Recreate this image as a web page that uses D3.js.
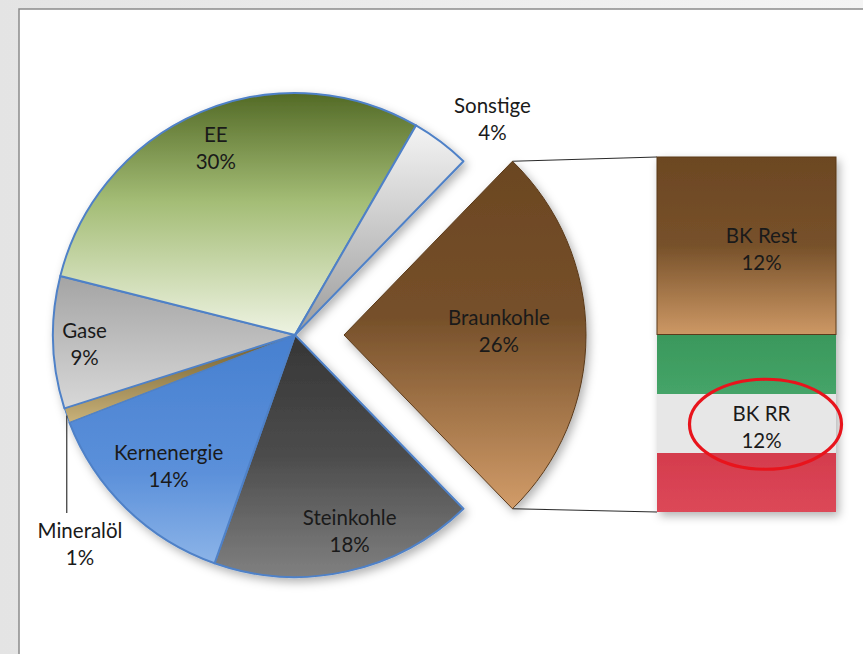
<!DOCTYPE html>
<html>
<head>
<meta charset="utf-8">
<script src="https://cdn.jsdelivr.net/npm/d3@7"></script>
<style>
  html, body { margin: 0; padding: 0; background: #efefef; }
  svg { display: block; }
  text { font-family: Lato, "Open Sans", sans-serif; fill: #1a1a1a; }
</style>
</head>
<body>
<svg id="chart" width="863" height="654"></svg>
<script>
// Primary energy mix (shares in %), drawn clockwise starting with Braunkohle
const categories = ["Braunkohle", "Steinkohle", "Kernenergie", "Mineralöl", "Gase", "EE", "Sonstige"];
const shares = [26, 18, 14, 1, 9, 30, 4];

// Split of Braunkohle shown in the stacked bar (bottom to top)
const bkParts = ["BK RR", "BK Rest"];
const bkShares = [12, 12];

// Slice fills: vertical gradient stops [offset, colour]
const sliceFills = {
  "Braunkohle":  [[0, "#6b4622"], [0.45, "#76502a"], [1, "#d29c69"]],
  "Steinkohle":  [[0, "#363636"], [0.5, "#4c4c4c"], [1, "#808080"]],
  "Kernenergie": [[0, "#4780d0"], [0.6, "#5b90da"], [1, "#8cb4e8"]],
  "Mineralöl":   [[0, "#6e5a2a"], [1, "#c9b27a"]],
  "Gase":        [[0, "#a4a4a4"], [1, "#d8d8d8"]],
  "EE":          [[0, "#536a26"], [0.45, "#a4bd76"], [1, "#eef3e2"]],
  "Sonstige":    [[0, "#f4f4f4"], [1, "#9c9c9c"]]
};

const svg = d3.select("#chart");
const W = 863, H = 654;
const cx = 295, cy = 335, R = 242, explode = 49;
const barX = 657, barW = 179, barTop = 157, barBottom = 512;

const defs = svg.append("defs");

// background strip + page frame
const bgGrad = defs.append("linearGradient").attr("id", "bgGrad")
  .attr("x1", 0).attr("y1", 0).attr("x2", 1).attr("y2", 0);
bgGrad.append("stop").attr("offset", 0).attr("stop-color", "#e4e4e4");
bgGrad.append("stop").attr("offset", 1).attr("stop-color", "#f4f4f4");
svg.append("rect").attr("width", W).attr("height", H).attr("fill", "url(#bgGrad)");
svg.append("rect").attr("x", 19).attr("y", 9).attr("width", W).attr("height", H)
  .attr("fill", "#ffffff").attr("stroke", "#8a8a8a").attr("stroke-width", 1.5);

// soft drop shadow for pie and bar
const shadow = defs.append("filter").attr("id", "shadow")
  .attr("x", "-20%").attr("y", "-20%").attr("width", "140%").attr("height", "140%");
shadow.append("feDropShadow").attr("dx", 3).attr("dy", 4)
  .attr("stdDeviation", 5).attr("flood-color", "#000").attr("flood-opacity", 0.3);

categories.forEach((c, i) => {
  const g = defs.append("linearGradient").attr("id", "fill" + i)
    .attr("x1", 0).attr("y1", 0).attr("x2", 0).attr("y2", 1);
  sliceFills[c].forEach(([o, col]) => g.append("stop").attr("offset", o).attr("stop-color", col));
});

const total = d3.sum(shares);
const start = Math.PI / 2 - Math.PI * shares[0] / total;   // Braunkohle centred at 3 o'clock
const pie = d3.pie().sort(null).value(d => d.value)
  .startAngle(start).endAngle(start + 2 * Math.PI);
const data = pie(categories.map((name, i) => ({ name, value: shares[i] })));

const arc = d3.arc().innerRadius(0).outerRadius(R);
const polar = (r, a) => [r * Math.sin(a), -r * Math.cos(a)];

// offset of each slice (only Braunkohle is pulled out)
const offsetOf = d => d.data.name === "Braunkohle"
  ? polar(explode, (d.startAngle + d.endAngle) / 2) : [0, 0];

// bar scale for the Braunkohle split
const yBar = d3.scaleLinear().domain([0, d3.sum(bkShares)]).range([barBottom, barTop]);

// connector lines between the pulled-out slice and the bar
const bk = data[0];
const bkOff = offsetOf(bk);
const pTop = polar(R, bk.startAngle), pBot = polar(R, bk.endAngle);
const conn = svg.append("g").attr("stroke", "#2a2a2a").attr("stroke-width", 1.2);
conn.append("line")
  .attr("x1", cx + bkOff[0] + pTop[0]).attr("y1", cy + bkOff[1] + pTop[1])
  .attr("x2", barX).attr("y2", yBar(d3.sum(bkShares)));
conn.append("line")
  .attr("x1", cx + bkOff[0] + pBot[0]).attr("y1", cy + bkOff[1] + pBot[1])
  .attr("x2", barX).attr("y2", yBar(0));

// pie
const pieG = svg.append("g").attr("transform", `translate(${cx},${cy})`).attr("filter", "url(#shadow)");
pieG.selectAll("path").data(data).join("path")
  .attr("transform", d => `translate(${offsetOf(d)})`)
  .attr("d", arc)
  .attr("fill", (d, i) => `url(#fill${i})`)
  .attr("stroke", d => d.data.name === "Braunkohle" ? "#5a3a1a" : "#4f81c7")
  .attr("stroke-width", d => d.data.name === "Braunkohle" ? 1 : (d.data.name === "Mineralöl" ? 1 : 2))
  .attr("stroke-linejoin", "round");

// stacked bar: BK RR (tri-colour band) at the bottom, BK Rest on top
const restGrad = defs.append("linearGradient").attr("id", "barRest")
  .attr("x1", 0).attr("y1", 0).attr("x2", 0).attr("y2", 1);
[[0, "#6c4723"], [0.5, "#77512a"], [1, "#cd9865"]].forEach(([o, c]) =>
  restGrad.append("stop").attr("offset", o).attr("stop-color", c));
const rrGrad = defs.append("linearGradient").attr("id", "barRR")
  .attr("x1", 0).attr("y1", 0).attr("x2", 0).attr("y2", 1);
[[0, "#3a985c"], [0.333, "#45a468"], [0.333, "#e7e7e7"], [0.667, "#e7e7e7"],
 [0.667, "#d43c4d"], [1, "#dc4858"]].forEach(([o, c]) =>
  rrGrad.append("stop").attr("offset", o).attr("stop-color", c));

const stacked = [];
let acc = 0;
bkParts.forEach((name, i) => { stacked.push({ name, value: bkShares[i], y0: acc, y1: acc + bkShares[i] }); acc += bkShares[i]; });

const barG = svg.append("g").attr("filter", "url(#shadow)");
barG.selectAll("rect").data(stacked).join("rect")
  .attr("x", barX).attr("width", barW)
  .attr("y", d => yBar(d.y1)).attr("height", d => yBar(d.y0) - yBar(d.y1))
  .attr("fill", d => d.name === "BK Rest" ? "url(#barRest)" : "url(#barRR)")
  .attr("stroke", d => d.name === "BK Rest" ? "#5a3a1a" : "none")
  .attr("stroke-width", 1);

// labels
const fs = 20.5, lh = 27;
function twoLine(x, y, a, b) {
  const t = svg.append("text").attr("text-anchor", "middle").attr("font-size", fs);
  t.append("tspan").attr("x", x).attr("y", y - lh / 2).attr("dominant-baseline", "central").text(a);
  t.append("tspan").attr("x", x).attr("y", y + lh / 2).attr("dominant-baseline", "central").text(b);
}

// label placement: radius as share of R, optional angle (degrees) override
const labelLayout = {
  "Braunkohle":  { r: 0.64, dy: -5 },
  "Steinkohle":  { r: 0.84, a: 164.4 },
  "Kernenergie": { r: 0.75 },
  "Gase":        { r: 0.87, dy: 2 },
  "EE":          { r: 0.84 },
  "Sonstige":    { r: 1.21, a: 42.4 }
};

data.forEach(d => {
  const name = d.data.name;
  const pct = d.data.value + "%";
  if (name === "Mineralöl") {
    // outside label with a vertical leader line
    const p = polar(R, (d.startAngle + d.endAngle) / 2);
    const x = cx + p[0], y = cy + p[1];
    svg.append("line").attr("x1", x).attr("y1", y).attr("x2", x).attr("y2", 513)
      .attr("stroke", "#333").attr("stroke-width", 1.2);
    twoLine(80, 543, name, pct);
    return;
  }
  const L = labelLayout[name];
  const ang = L.a !== undefined ? L.a * Math.PI / 180 : (d.startAngle + d.endAngle) / 2;
  const off = offsetOf(d);
  const p = polar(L.r * R, ang);
  twoLine(cx + off[0] + p[0], cy + off[1] + p[1] + (L.dy || 0), name, pct);
});

stacked.forEach(d => {
  twoLine(barX + barW / 2 + 15, (yBar(d.y0) + yBar(d.y1)) / 2 + 3, d.name, d.value + "%");
});

// highlight ring round the BK RR share
const rr = stacked.find(d => d.name === "BK RR");
svg.append("ellipse")
  .attr("cx", barX + barW / 2 + 19).attr("cy", (yBar(rr.y0) + yBar(rr.y1)) / 2 + 1)
  .attr("rx", 76).attr("ry", 45)
  .attr("fill", "none").attr("stroke", "#e8141c").attr("stroke-width", 3.2);
</script>
</body>
</html>
